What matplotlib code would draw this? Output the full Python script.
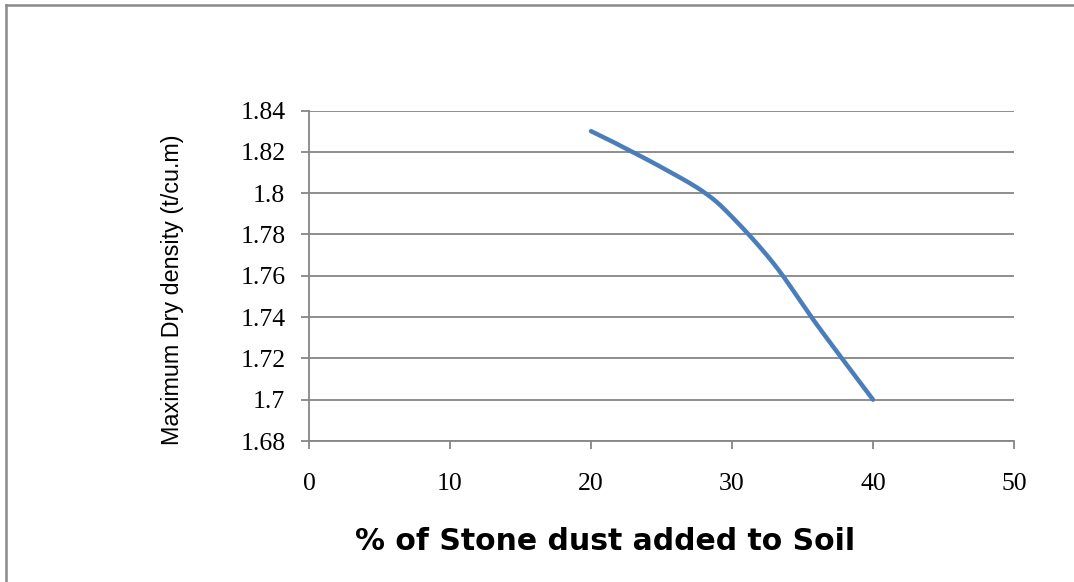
import matplotlib
matplotlib.use('Agg')
import matplotlib.pyplot as plt
from matplotlib.lines import Line2D
import numpy as np

# values
stone_dust = [20, 21.5, 25, 28, 30, 33, 36, 40]
dry_density = [1.830, 1.825, 1.8125, 1.8005, 1.7885, 1.7655, 1.7365, 1.700]

x_ticks = [0, 10, 20, 30, 40, 50]
y_ticks = [1.68, 1.70, 1.72, 1.74, 1.76, 1.78, 1.80, 1.82, 1.84]
y_tick_labels = ['1.68', '1.7', '1.72', '1.74', '1.76', '1.78', '1.8', '1.82', '1.84']

x_title = '% of Stone dust added to Soil'
y_title = 'Maximum Dry density (t/cu.m)'


def excel_smooth(xs, ys, n=30):
    # bezier smoothing like the spreadsheet "smoothed line"
    pts = np.column_stack([xs, ys]).astype(float)
    out = [pts[0]]
    for i in range(len(pts) - 1):
        p0 = pts[i - 1] if i > 0 else pts[i]
        p1 = pts[i]
        p2 = pts[i + 1]
        p3 = pts[i + 2] if i + 2 < len(pts) else pts[i + 1]
        c1 = p1 + (p2 - p0) / 6
        c2 = p2 - (p3 - p1) / 6
        t = np.linspace(0, 1, n)[1:, None]
        seg = ((1 - t) ** 3) * p1 + 3 * ((1 - t) ** 2) * t * c1 + 3 * (1 - t) * t ** 2 * c2 + t ** 3 * p2
        out.extend(seg)
    out = np.array(out)
    return out[:, 0], out[:, 1]


grey = '#868686'
fig = plt.figure(figsize=(10.74, 5.82), dpi=100)
ax = fig.add_axes([309 / 1074, 1 - 441 / 582, (1014 - 309) / 1074, (441 - 110.5) / 582])

sx, sy = excel_smooth(stone_dust, dry_density)
ax.plot(sx, sy, color='#4a7ebb', lw=3.2, solid_capstyle='round', zorder=3)

ax.set_xlim(0, 50)
ax.set_ylim(1.68, 1.84)
ax.set_xticks(x_ticks)
ax.set_yticks(y_ticks)
ax.set_yticklabels(y_tick_labels)
ax.yaxis.grid(True, color=grey, lw=1.3)
ax.set_axisbelow(True)

for s in ['top', 'right']:
    ax.spines[s].set_visible(False)
for s in ['left', 'bottom']:
    ax.spines[s].set_color(grey)
    ax.spines[s].set_linewidth(1.3)

ax.tick_params(axis='both', direction='out', length=6, width=1.3, color=grey)
ax.tick_params(axis='y', pad=11, labelsize=18.5)
ax.tick_params(axis='x', pad=17, labelsize=18.5)
for lab in ax.get_xticklabels() + ax.get_yticklabels():
    lab.set_fontfamily('Liberation Serif')

fig.text(605 / 1074, 1 - 541 / 582, x_title, ha='center', va='center',
         fontsize=21.5, fontweight='bold', family='DejaVu Sans')
fig.text(173 / 1074, 1 - 290 / 582, y_title, ha='center', va='center', rotation=90,
         fontsize=16.8, family='Liberation Sans')

# outer frame (only top and left edges are visible)
fig.add_artist(Line2D([6 / 1074, 1], [1 - 5 / 582, 1 - 5 / 582], transform=fig.transFigure,
                      color='#8a8a8a', lw=1.8))
fig.add_artist(Line2D([6 / 1074, 6 / 1074], [0, 1 - 5 / 582], transform=fig.transFigure,
                      color='#8a8a8a', lw=1.8))

fig.savefig('out.png', dpi=100)
